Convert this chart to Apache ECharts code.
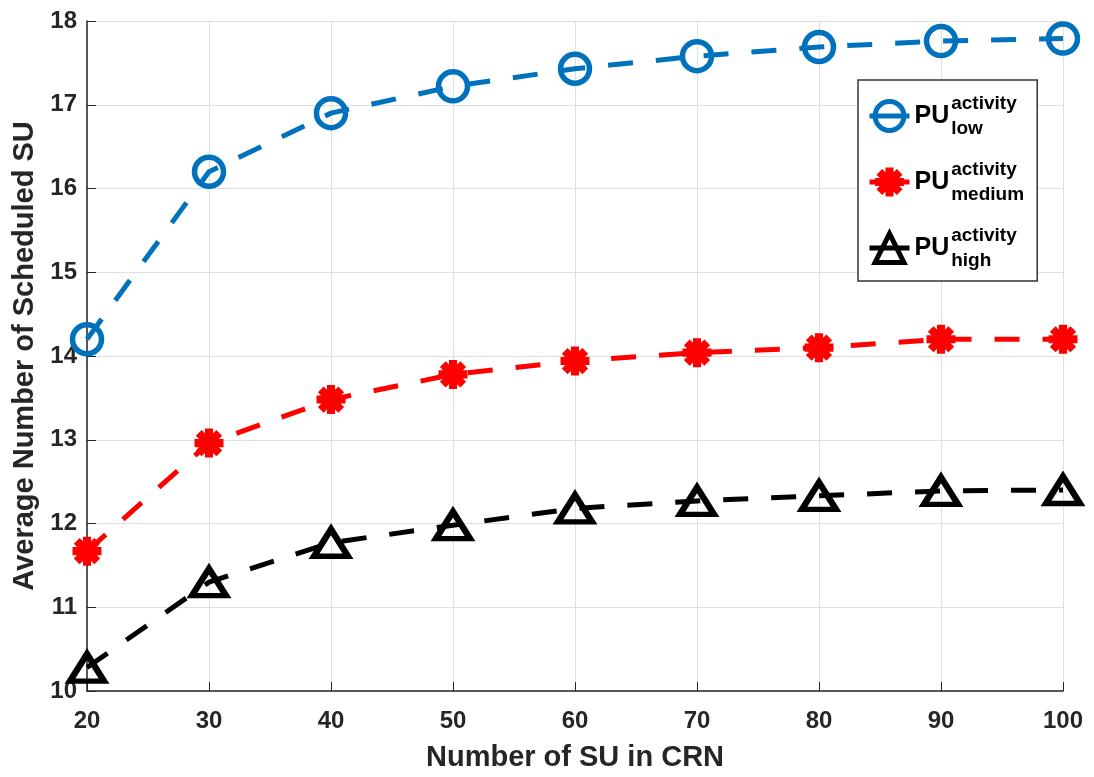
<!DOCTYPE html>
<html>
<head>
    <meta charset="utf-8">
    <title>Scheduled SU</title>
    <script src="https://cdn.jsdelivr.net/npm/echarts@6/dist/echarts.min.js"></script>
    <style>
        html, body { margin: 0; padding: 0; background: #fff; }
    </style>
</head>
<body>
<div id="main" style="width: 1094px;height:777px;"></div>
<script>
    // data
    var suCount = [20, 30, 40, 50, 60, 70, 80, 90, 100];
    var puLow = [14.2, 16.2, 16.9, 17.22, 17.43, 17.58, 17.69, 17.76, 17.79];
    var puMedium = [11.67, 12.96, 13.48, 13.78, 13.94, 14.04, 14.1, 14.2, 14.2];
    var puHigh = [10.28, 11.3, 11.77, 11.98, 12.18, 12.27, 12.33, 12.39, 12.4];

    // asterisk marker (4 crossing bars)
    var star = 'path://M-10,-2.8L10,-2.8L10,2.8L-10,2.8Z' +
        'M2.8,-10L2.8,10L-2.8,10L-2.8,-10Z' +
        'M-5.09,-9.05L9.05,5.09L5.09,9.05L-9.05,-5.09Z' +
        'M9.05,-5.09L-5.09,9.05L-9.05,5.09L5.09,-9.05Z';

    function pairs(ys) {
        return suCount.map(function (x, i) { return [x, ys[i]]; });
    }

    var axisColor = '#262626';
    var font = '"Liberation Sans", Arial, Helvetica, sans-serif';

    var myChart = echarts.init(document.getElementById('main'));
    var option = {
        animation: false,
        backgroundColor: '#fff',
        grid: { left: 87, right: 31, top: 21, bottom: 84 },
        legend: {
            orient: 'vertical',
            left: 858,
            top: 80,
            backgroundColor: '#fff',
            borderColor: '#333',
            borderWidth: 1.5,
            padding: [14, 8, 11, 9],
            itemGap: 22,
            itemWidth: 40,
            itemHeight: 36,
            lineStyle: { type: 'solid', width: 5 },
            itemStyle: { borderWidth: 5 },
            data: [
                { name: 'low' },
                { name: 'medium', itemStyle: { borderWidth: 0 } },
                { name: 'high' }
            ],
            formatter: function (name) {
                return '{pu|PU}{sup|activity}{sub|' + name + '}';
            },
            textStyle: {
                color: '#000',
                fontFamily: font,
                fontWeight: 'bold',
                rich: {
                    pu: { fontSize: 25, fontWeight: 'bold', lineHeight: 44, fontFamily: font, padding: [0, 2, 0, 0] },
                    sup: { fontSize: 19, fontWeight: 'bold', lineHeight: 20, verticalAlign: 'top', width: 0, fontFamily: font },
                    sub: { fontSize: 19, fontWeight: 'bold', lineHeight: 20, verticalAlign: 'bottom', width: 78, fontFamily: font }
                }
            }
        },
        xAxis: {
            type: 'value',
            min: 20,
            max: 100,
            interval: 10,
            name: 'Number of SU in CRN',
            nameLocation: 'middle',
            nameGap: 52,
            nameTextStyle: { color: axisColor, fontSize: 29, fontWeight: 'bold', fontFamily: font },
            axisLine: { lineStyle: { color: axisColor, width: 1.5 } },
            axisTick: { inside: true, length: 9, lineStyle: { color: axisColor } },
            axisLabel: { color: axisColor, fontSize: 24, fontWeight: 'bold', fontFamily: font, margin: 18 },
            splitLine: { show: true, lineStyle: { color: '#dfdfdf', width: 1 } }
        },
        yAxis: {
            type: 'value',
            min: 10,
            max: 18,
            interval: 1,
            name: 'Average Number of Scheduled SU',
            nameLocation: 'middle',
            nameGap: 48,
            nameTextStyle: { color: axisColor, fontSize: 29, fontWeight: 'bold', fontFamily: font },
            axisLine: { show: true, lineStyle: { color: axisColor, width: 1.5 } },
            axisTick: { show: true, inside: true, length: 9, lineStyle: { color: axisColor } },
            axisLabel: { color: axisColor, fontSize: 24, fontWeight: 'bold', fontFamily: font, margin: 10 },
            splitLine: { show: true, lineStyle: { color: '#dfdfdf', width: 1 } }
        },
        series: [
            {
                name: 'low',
                type: 'line',
                data: pairs(puLow),
                symbol: 'circle',
                symbolSize: 29,
                itemStyle: { color: 'rgba(0,0,0,0)', borderColor: '#0072BD', borderWidth: 5.5 },
                lineStyle: { color: '#0072BD', width: 5, type: [25, 23] }
            },
            {
                name: 'medium',
                type: 'line',
                data: pairs(puMedium),
                symbol: star,
                symbolSize: 29,
                itemStyle: { color: '#FF0000', borderColor: '#FF0000', borderWidth: 0 },
                lineStyle: { color: '#FF0000', width: 5, type: [25, 23] }
            },
            {
                name: 'high',
                type: 'line',
                data: pairs(puHigh),
                symbol: 'triangle',
                symbolSize: [34, 27],
                itemStyle: { color: 'rgba(0,0,0,0)', borderColor: '#000', borderWidth: 6 },
                lineStyle: { color: '#000', width: 5, type: [25, 23] }
            }
        ]
    };
    myChart.setOption(option);
</script>
</body>
</html>
